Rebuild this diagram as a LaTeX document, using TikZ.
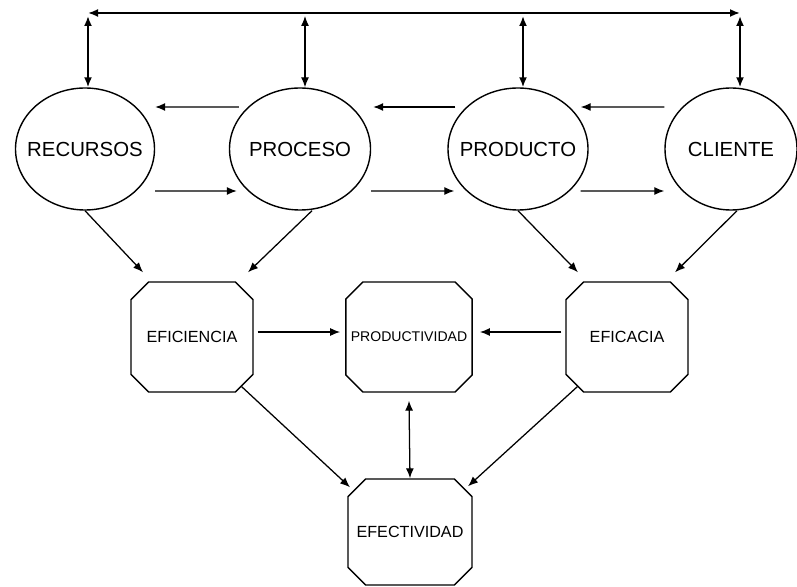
\documentclass[tikz,border=0pt]{standalone}
\usepackage{fontspec}
\setmainfont{Liberation Sans}
\usetikzlibrary{shapes.geometric, shapes.misc, arrows.meta}

\begin{document}
\begin{tikzpicture}[
  elipse/.style={ellipse, draw, line width=1pt, minimum width=3.5cm, minimum height=3.05cm, inner sep=0pt},
  rotulo/.style={inner sep=0pt, font=\fontsize{14.5}{16}\selectfont},
  caja/.style={chamfered rectangle, chamfered rectangle xsep=0.3cm, chamfered rectangle ysep=0.3cm, draw, line width=1pt, minimum width=3.05cm, minimum height=2.75cm, inner sep=0pt, font=\fontsize{11.5}{13}\selectfont},
  flecha/.style={-{Latex[length=2.5mm,width=2mm]}, line width=0.9pt},
  doble/.style={{Latex[length=2.5mm,width=2mm]}-{Latex[length=2.5mm,width=2mm]}, line width=1.3pt}
]
\useasboundingbox (0,0) rectangle (19.925,-14.675);

\node[elipse, minimum width=3.475cm] (REC) at (2.125,-3.725) {};
\node[elipse, minimum width=3.525cm] (PROC) at (7.5,-3.725) {};
\node[elipse, minimum width=3.5cm] (PROD) at (12.95,-3.725) {};
\node[elipse, minimum width=3.3cm] (CLI) at (18.275,-3.725) {};
\node[rotulo] (tREC) at (REC) {RECURSOS};
\node[rotulo] (tPROC) at (PROC) {PROCESO};
\node[rotulo] (tPROD) at (PROD) {PRODUCTO};
\node[rotulo] (tCLI) at (CLI) {CLIENTE};

\node[caja] (EFIC) at (4.8,-8.425) {EFICIENCIA};
\node[caja, minimum width=3.1cm, font=\fontsize{10}{12}\selectfont] (PRODV) at (10.225,-8.425) {PRODUCTIVIDAD};
\node[caja] (EFICA) at (15.675,-8.425) {EFICACIA};
\node[caja, minimum width=3.1cm, minimum height=2.65cm] (EFECT) at (10.25,-13.3) {EFECTIVIDAD};

\coordinate (T1) at (2.2,-0.325);
\coordinate (T4) at (18.5,-0.325);
\coordinate (U1) at (2.2,-0.4);
\coordinate (U2) at (7.625,-0.4);
\coordinate (U3) at (13.075,-0.4);
\coordinate (U4) at (18.5,-0.4);

% linea superior y flechas verticales
\draw[doble] (T1) -- (T4);
\draw[doble] (U1) -- (U1 |- REC.north);
\draw[doble, line width=0.9pt] (U2) -- (U2 |- PROC.north);
\draw[doble] (U3) -- (U3 |- PROD.north);
\draw[doble] (U4) -- (U4 |- CLI.north);

% flechas entre elipses
\draw[flecha] ([shift={(0.25,1.05)}]PROC.west) -- ([yshift=1.05cm]REC.east);
\draw[flecha] ([shift={(0.2,1.05)}]PROD.west) -- ([shift={(0.05,1.05)}]PROC.east);
\draw[flecha] ([yshift=1.05cm]CLI.west) -- ([shift={(-0.2,1.05)}]PROD.east);
\draw[flecha] ([yshift=-1.05cm]REC.east) -- ([shift={(0.2,-1.05)}]PROC.west);
\draw[flecha] ([yshift=-1.05cm]PROC.east) -- ([shift={(0.175,-1.05)}]PROD.west);
\draw[flecha] ([shift={(-0.2,-1.05)}]PROD.east) -- ([yshift=-1.05cm]CLI.west);

% hacia eficiencia y eficacia
\draw[flecha] (REC.south) -- ([shift={(-1.225,0.225)}]EFIC.north);
\draw[flecha] ([xshift=0.3cm]PROC.south) -- ([shift={(1.4,0.225)}]EFIC.north);
\draw[flecha] (PROD.south) -- ([shift={(-1.225,0.225)}]EFICA.north);
\draw[flecha] ([xshift=0.15cm]CLI.south) -- ([shift={(1.2,0.225)}]EFICA.north);

% productividad y efectividad
\draw[flecha] ([shift={(0.1,0.125)}]EFIC.east) -- ([shift={(-0.125,0.125)}]PRODV.west);
\draw[flecha] ([shift={(-0.1,0.125)}]EFICA.west) -- ([shift={(0.175,0.125)}]PRODV.east);
\draw[doble, line width=0.9pt] ([yshift=-0.2cm]PRODV.south) -- (EFECT.north);
\draw[flecha] (EFIC.-45) -- ([shift={(-1.5,-0.225)}]EFECT.north);
\draw[flecha] (EFICA.-135) -- ([shift={(1.45,-0.2)}]EFECT.north);

\end{tikzpicture}
\end{document}
